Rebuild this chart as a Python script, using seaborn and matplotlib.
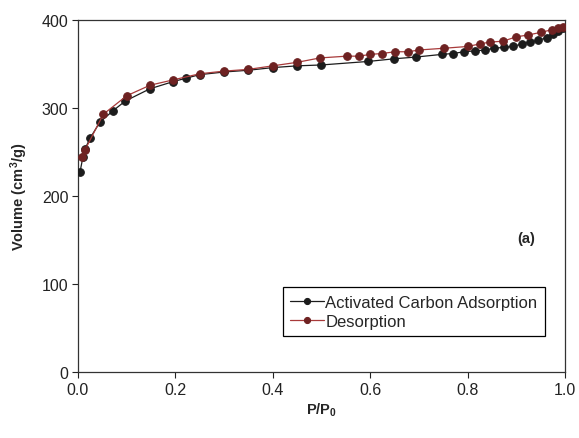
import numpy as np
import pandas as pd
import matplotlib
matplotlib.use("Agg")
import matplotlib.pyplot as plt
import seaborn as sns

ads_x = [0.004, 0.01, 0.014, 0.025, 0.045, 0.072, 0.097, 0.148, 0.195, 0.222, 0.25,
         0.30, 0.35, 0.40, 0.45, 0.50, 0.596, 0.649, 0.694, 0.747, 0.77, 0.793, 0.815,
         0.836, 0.854, 0.875, 0.893, 0.912, 0.928, 0.945, 0.963, 0.975, 0.986, 0.996]
ads_y = [227, 244, 253, 266, 284, 297, 308, 322, 330, 334, 338,
         341, 343, 346, 348, 349, 353, 356, 358, 361, 362, 364, 365,
         366, 368, 369, 370, 373, 375, 377, 380, 384, 388, 391]

des_x = [0.008, 0.014, 0.052, 0.10, 0.148, 0.195, 0.25, 0.30, 0.35, 0.40, 0.45, 0.497,
         0.552, 0.577, 0.60, 0.624, 0.651, 0.678, 0.70, 0.752, 0.80, 0.826, 0.846,
         0.873, 0.90, 0.924, 0.95, 0.973, 0.986, 0.996]
des_y = [245, 252, 293, 314, 326, 332, 339, 342, 344, 348, 352, 357,
         359, 359, 361, 362, 364, 364, 366, 368, 370, 373, 375,
         376, 381, 383, 386, 389, 391, 392]

labels = ["Activated Carbon Adsorption", "Desorption"]

sns.set_style("ticks")
plt.rcParams['font.family'] = ['Liberation Sans', 'DejaVu Sans']
plt.rcParams['mathtext.fontset'] = 'custom'
plt.rcParams['mathtext.rm'] = 'Liberation Sans:bold'
plt.rcParams['mathtext.it'] = 'Liberation Sans:bold'
plt.rcParams['mathtext.bf'] = 'Liberation Sans:bold'

df_a = pd.DataFrame({"x": ads_x, "y": ads_y})
df_d = pd.DataFrame({"x": des_x, "y": des_y})

fig = plt.figure(figsize=(5.79, 4.39), dpi=100)
ax = fig.add_axes([0.1347, 0.150, 0.8411, 0.802])

sns.lineplot(data=df_a, x="x", y="y", ax=ax, color="#1c1c1c", lw=0.9,
             marker="o", markersize=5.5, markerfacecolor="#1c1c1c",
             markeredgecolor="#1c1c1c", sort=False, label=labels[0], zorder=3)
sns.lineplot(data=df_d, x="x", y="y", ax=ax, color="#a83a3a", lw=0.9,
             marker="o", markersize=5.5, markerfacecolor="#6e2222",
             markeredgecolor="#6e2222", sort=False, label=labels[1], zorder=4)

ax.set_xlim(0, 1.0)
ax.set_ylim(0, 400)
ax.set_xticks([0.0, 0.2, 0.4, 0.6, 0.8, 1.0])
ax.set_xticklabels(["0.0", "0.2", "0.4", "0.6", "0.8", "1.0"])
ax.set_yticks([0, 100, 200, 300, 400])
ax.tick_params(axis='both', direction='out', length=4, width=0.8, labelsize=11.5,
               colors="#222222", top=False, right=False, pad=3)
for s in ax.spines.values():
    s.set_linewidth(0.9)
    s.set_color("#333333")

ax.set_xlabel(r"P/P$_0$", fontsize=10.5, fontweight="bold", labelpad=3)
ax.set_ylabel(r"Volume (cm$^3$/g)", fontsize=10.5, fontweight="bold", labelpad=8)

ax.text(0.92, 0.38, "(a)", transform=ax.transAxes, fontsize=10.5,
        fontweight="bold", ha="center", va="center")

leg = ax.legend(loc="upper right", bbox_to_anchor=(0.959, 0.2415), borderaxespad=0,
                frameon=True, fancybox=False, edgecolor="black", framealpha=1,
                fontsize=12, handlelength=2.0, handletextpad=0.1, borderpad=0.45,
                labelspacing=0.25, markerscale=0.8)
leg.get_frame().set_linewidth(0.9)

fig.savefig("out.png", dpi=100)
